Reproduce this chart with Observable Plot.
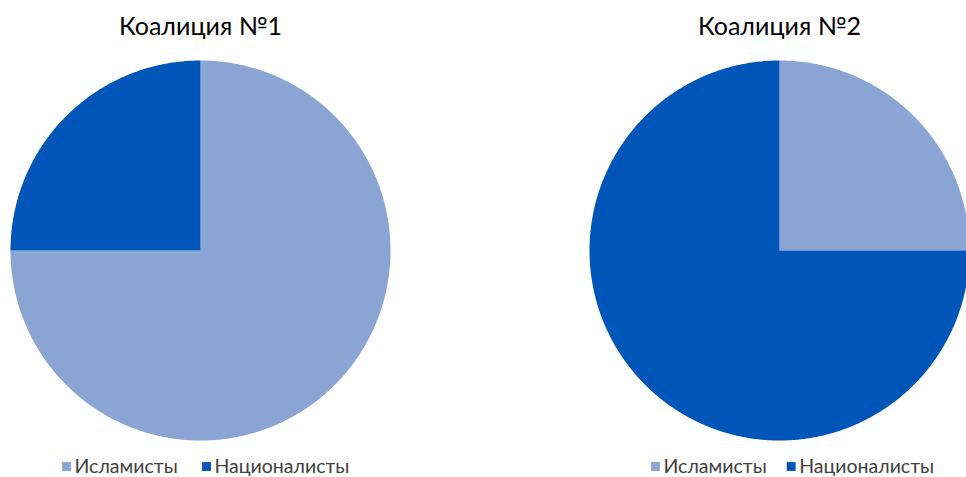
<!DOCTYPE html>
<html>
<head>
<meta charset="utf-8">
<script src="https://cdn.jsdelivr.net/npm/d3@7"></script>
<script src="https://cdn.jsdelivr.net/npm/@observablehq/plot@0.6"></script>
<style>
  html, body { margin: 0; padding: 0; background: #fff; }
  #chart svg { display: block; }
</style>
</head>
<body>
<div id="chart"></div>
<script>
// ---- data ----
const coalitions = ["Коалиция №1", "Коалиция №2"];
const groups = ["Исламисты", "Националисты"];
const islamists = [75, 25];
const nationalists = [25, 75];
const groupColors = ["#8AA5D3", "#0055B8"];

// ---- layout ----
const W = 966, H = 477;
const centersX = [200, 779];
const centerY = 250;
const radius = 190;
const titleY = 26;
const legendY = 466;
const legendStartX = [66, 655];   // first swatch center
const legendGap = [140, 135.7];   // distance to second swatch

const values = [islamists, nationalists];

// build slices
const slices = [];
coalitions.forEach((c, ci) => {
  const vals = groups.map((g, gi) => values[gi][ci]);
  const total = d3.sum(vals);
  let start = 0;
  groups.forEach((g, gi) => {
    const v = vals[gi];
    const a0 = start / total * 2 * Math.PI;
    const a1 = (start + v) / total * 2 * Math.PI;
    start += v;
    const key = c + "|" + g;
    const cx = centersX[ci];
    slices.push({key, group: g, x: cx, y: centerY});
    const n = Math.max(2, Math.ceil((a1 - a0) / (Math.PI / 360)));
    for (let i = 0; i <= n; i++) {
      const a = a0 + (a1 - a0) * i / n;
      slices.push({key, group: g, x: cx + radius * Math.sin(a), y: centerY - radius * Math.cos(a)});
    }
  });
});

const titles = coalitions.map((c, i) => ({text: c, x: centersX[i], y: titleY}));
const legendItems = [];
coalitions.forEach((c, ci) => {
  groups.forEach((g, gi) => {
    const sx = legendStartX[ci] + gi * legendGap[ci];
    legendItems.push({group: g, sx, tx: sx + 8, y: legendY});
  });
});

const chart = Plot.plot({
  width: W,
  height: H,
  margin: 0,
  style: {fontFamily: "Lato, 'Open Sans', sans-serif", background: "#fff"},
  x: {domain: [0, W], range: [0, W], axis: null},
  y: {domain: [0, H], range: [0, H], axis: null},
  color: {domain: groups, range: groupColors},
  marks: [
    Plot.line(slices, {x: "x", y: "y", z: "key", fill: "group", stroke: "none", curve: "linear-closed"}),
    Plot.text(titles, {x: "x", y: "y", text: "text", fontSize: 25, fill: "#000", textAnchor: "middle", lineAnchor: "middle"}),
    Plot.dot(legendItems, {x: "sx", y: "y", symbol: "square", r: 5, fill: "group", stroke: "none"}),
    Plot.text(legendItems, {x: "tx", y: "y", text: "group", fontSize: 19.5, fill: "#404040", textAnchor: "start", lineAnchor: "middle"})
  ]
});
document.getElementById("chart").appendChild(chart);
</script>
</body>
</html>
